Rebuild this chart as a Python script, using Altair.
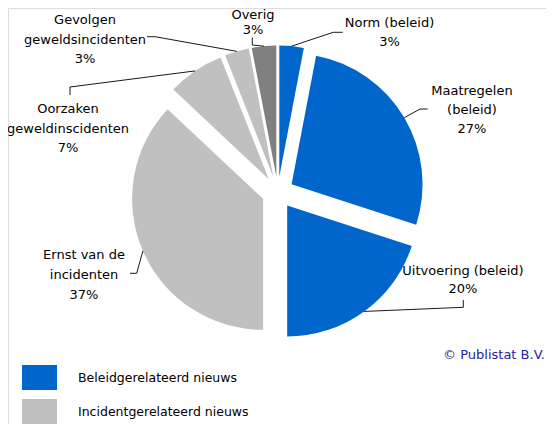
import math
import altair as alt
import numpy as np
import pandas as pd

# ---------------- data ----------------
categories = [
    "Norm (beleid)",
    "Maatregelen (beleid)",
    "Uitvoering (beleid)",
    "Ernst van de incidenten",
    "Oorzaken geweldsincidenten",
    "Gevolgen geweldsincidenten",
    "Overig",
]
shares = [3, 27, 20, 37, 7, 3, 3]
groups = [
    "Beleidgerelateerd nieuws",
    "Beleidgerelateerd nieuws",
    "Beleidgerelateerd nieuws",
    "Incidentgerelateerd nieuws",
    "Incidentgerelateerd nieuws",
    "Incidentgerelateerd nieuws",
    "Overig",
]
label_lines = [
    ["Norm (beleid)"],
    ["Maatregelen", "(beleid)"],
    ["Uitvoering (beleid)"],
    ["Ernst van de", "incidenten"],
    ["Oorzaken", "geweldinscidenten"],
    ["Gevolgen", "geweldsincidenten"],
    ["Overig"],
]
legend_groups = ["Beleidgerelateerd nieuws", "Incidentgerelateerd nieuws"]
group_domain = ["Beleidgerelateerd nieuws", "Incidentgerelateerd nieuws", "Overig"]
copyright_text = "\u00a9 Publistat B.V."

# ---------------- layout / style ----------------
group_colors = ["#0066CC", "#C0C0C0", "#808080"]
W, H = 538, 416
SW, SH = 538, 408  # layout coordinate space
CX, CY = 269.8, 184.5
R = 131
EXPLODE = 16
FONT = "DejaVu Sans"
TOTAL = sum(shares)

# label block: x centre, first line y, line step
label_pos = [
    (381.5, 15.3, 18.6),
    (464.0, 82.7, 19.2),
    (455.0, 262.7, 18.6),
    (76.0, 247.0, 20.0),
    (60.0, 101.0, 19.5),
    (77.0, 12.3, 19.4),
    (245.0, 7.0, 15.0),
]
# leader line elbow and end points
leader_pts = [
    [(325.3, 24.3), (334.7, 24.3)],
    [(412.0, 101.0), (419.7, 101.0)],
    [(455.3, 299.3), (455.3, 292.0)],
    [(128.7, 265.3), (122.0, 265.3)],
    [(62.0, 79.0), (62.0, 87.0)],
    [(147.0, 28.7), (139.0, 28.7)],
    [(244.3, 37.0), (244.3, 29.5)],
]

pie_df = pd.DataFrame(
    {"idx": list(range(len(categories))), "category": categories, "share": shares, "group": groups}
)

label_rows = []
for cat, share, lines, (lx, ly, step) in zip(categories, shares, label_lines, label_pos):
    for i, line in enumerate(lines + [f"{share}%"]):
        label_rows.append({"category": cat, "text": line, "lx": lx, "ly": ly + i * step})
label_df = pd.DataFrame(label_rows)

cum = np.cumsum(shares)
mid = (cum - np.array(shares) / 2.0) / TOTAL * 2 * math.pi
leader_rows = []
for k, cat in enumerate(categories):
    sx = CX + (R + EXPLODE) * math.sin(mid[k])
    sy = CY - (R + EXPLODE) * math.cos(mid[k])
    pts = [(sx, sy)] + leader_pts[k]
    for j, (px, py) in enumerate(pts):
        leader_rows.append({"category": cat, "step": j, "lx": px, "ly": py})
leader_df = pd.DataFrame(leader_rows)

xscale = alt.Scale(domain=[0, SW], range=[0, SW])
yscale = alt.Scale(domain=[0, SH], range=[0, SH])

legend = alt.Legend(
    values=legend_groups,
    title=None,
    orient="none",
    legendX=14,
    legendY=352,
    symbolType="M-1,-0.714L1,-0.714L1,0.714L-1,0.714Z",
    symbolSize=1225,
    symbolStrokeWidth=0,
    symbolOpacity=1,
    labelFont=FONT,
    labelFontSize=12.5,
    labelColor="#000000",
    labelOffset=21,
    labelLimit=400,
    rowPadding=4,
)

pie = (
    alt.Chart(pie_df)
    .transform_window(cum="sum(share)", sort=[alt.SortField("idx")])
    .transform_calculate(
        start="datum.cum - datum.share",
        mid=f"(datum.cum - datum.share / 2) / {TOTAL} * 2 * PI",
    )
    .transform_calculate(
        px=f"{CX} + {EXPLODE} * sin(datum.mid)",
        py=f"{CY} - {EXPLODE} * cos(datum.mid)",
    )
    .mark_arc(radius=R)
    .encode(
        theta=alt.Theta("start:Q", scale=alt.Scale(domain=[0, TOTAL], range=[0, 2 * math.pi]), stack=False),
        theta2="cum:Q",
        x=alt.X("px:Q", scale=xscale, axis=None),
        y=alt.Y("py:Q", scale=yscale, axis=None),
        color=alt.Color("group:N", scale=alt.Scale(domain=group_domain, range=group_colors), legend=legend),
    )
)

leaders = (
    alt.Chart(leader_df)
    .mark_line(color="#1a1a1a", strokeWidth=1)
    .encode(
        x=alt.X("lx:Q", scale=xscale, axis=None),
        y=alt.Y("ly:Q", scale=yscale, axis=None),
        detail="category:N",
        order="step:Q",
    )
)

labels = (
    alt.Chart(label_df)
    .mark_text(font=FONT, fontSize=13, align="center", baseline="middle", color="#000000")
    .encode(
        x=alt.X("lx:Q", scale=xscale, axis=None),
        y=alt.Y("ly:Q", scale=yscale, axis=None),
        text="text:N",
    )
)

copyright_mark = (
    alt.Chart(pd.DataFrame({"text": [copyright_text]}))
    .mark_text(font=FONT, fontSize=13, align="right", baseline="middle", color="#262699")
    .encode(x=alt.value(537), y=alt.value(347), text="text:N")
)

chart = (
    alt.layer(pie, leaders, labels, copyright_mark)
    .properties(width=W, height=H, padding=0, autosize=alt.AutoSizeParams(type="none"))
    .configure_view(strokeOpacity=0)
    .configure(background="#ffffff")
)

chart.save("out.html", embed_options={"renderer": "svg", "actions": False})
